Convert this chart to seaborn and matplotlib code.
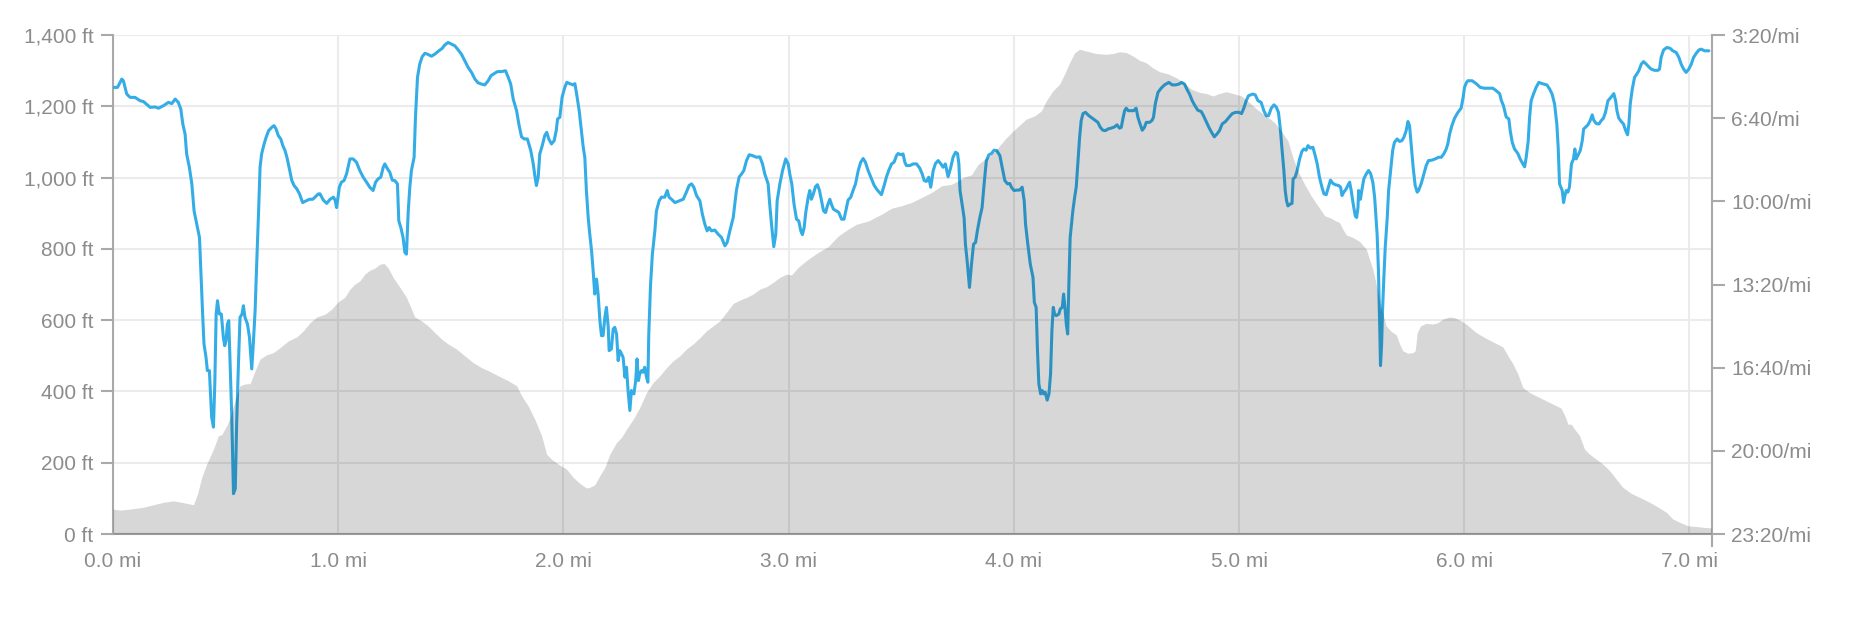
import seaborn as sns
import matplotlib.pyplot as plt
from matplotlib.ticker import FuncFormatter

# elevation profile (miles, feet)
elev_mi = [0.000, 0.031, 0.076, 0.135, 0.179, 0.224, 0.268, 0.305, 0.357, 0.375,
           0.394, 0.416, 0.446, 0.468, 0.483, 0.505, 0.520, 0.542, 0.564, 0.586,
           0.609, 0.631, 0.653, 0.683, 0.712, 0.742, 0.779, 0.816, 0.845, 0.875,
           0.905, 0.942, 0.971, 1.001, 1.029, 1.052, 1.074, 1.096, 1.118, 1.140,
           1.163, 1.185, 1.204, 1.222, 1.244, 1.274, 1.303, 1.322, 1.340, 1.370,
           1.399, 1.429, 1.459, 1.488, 1.525, 1.562, 1.599, 1.636, 1.673, 1.710,
           1.755, 1.792, 1.814, 1.843, 1.873, 1.903, 1.925, 1.947, 1.977, 2.014,
           2.043, 2.073, 2.102, 2.117, 2.139, 2.162, 2.184, 2.206, 2.236, 2.258,
           2.280, 2.310, 2.339, 2.369, 2.398, 2.428, 2.458, 2.487, 2.517, 2.546,
           2.576, 2.606, 2.635, 2.665, 2.694, 2.724, 2.754, 2.783, 2.813, 2.842,
           2.872, 2.902, 2.931, 2.961, 2.990, 3.013, 3.042, 3.087, 3.131, 3.175,
           3.220, 3.264, 3.301, 3.353, 3.412, 3.457, 3.501, 3.545, 3.590, 3.634,
           3.679, 3.723, 3.753, 3.782, 3.812, 3.841, 3.871, 3.901, 3.930, 3.960,
           3.989, 4.013, 4.055, 4.092, 4.122, 4.144, 4.173, 4.203, 4.225, 4.247,
           4.270, 4.292, 4.321, 4.366, 4.410, 4.440, 4.469, 4.499, 4.529, 4.558,
           4.588, 4.617, 4.647, 4.684, 4.721, 4.751, 4.788, 4.825, 4.854, 4.884,
           4.913, 4.943, 4.973, 5.011, 5.047, 5.084, 5.121, 5.158, 5.187, 5.217,
           5.239, 5.261, 5.291, 5.320, 5.350, 5.380, 5.409, 5.424, 5.446, 5.461,
           5.476, 5.505, 5.535, 5.565, 5.579, 5.594, 5.609, 5.631, 5.653, 5.676,
           5.698, 5.713, 5.727, 5.750, 5.772, 5.782, 5.791, 5.806, 5.831, 5.861,
           5.883, 5.905, 5.935, 5.957, 5.986, 6.010, 6.053, 6.097, 6.134, 6.171,
           6.194, 6.216, 6.238, 6.260, 6.290, 6.334, 6.379, 6.430, 6.450, 6.460,
           6.475, 6.490, 6.512, 6.534, 6.556, 6.586, 6.615, 6.645, 6.675, 6.704,
           6.741, 6.778, 6.823, 6.867, 6.897, 6.926, 6.956, 6.993, 7.030, 7.059,
           7.096]
elev_ft = [70, 67, 70, 75, 82, 89, 93, 89, 82, 112,
           159, 196, 238, 276, 279, 304, 327, 374, 416, 421,
           422, 458, 491, 503, 509, 523, 542, 553, 570, 593,
           609, 617, 631, 652, 664, 687, 701, 710, 729, 740,
           746, 757, 759, 746, 720, 692, 664, 636, 609, 598,
           584, 565, 547, 533, 519, 500, 481, 467, 456, 444,
           430, 416, 388, 360, 322, 276, 224, 210, 196, 182,
           159, 142, 129, 131, 138, 164, 187, 224, 257, 271,
           294, 322, 355, 397, 425, 444, 467, 486, 500, 519,
           533, 551, 570, 584, 598, 622, 647, 656, 664, 673,
           687, 694, 706, 720, 729, 727, 748, 771, 790, 806,
           836, 855, 869, 878, 897, 914, 921, 930, 944, 958,
           977, 981, 991, 1002, 1008, 1037, 1051, 1065, 1084, 1107,
           1126, 1140, 1164, 1173, 1187, 1215, 1243, 1262, 1290, 1322,
           1350, 1360, 1355, 1348, 1346, 1348, 1353, 1351, 1341, 1329,
           1322, 1308, 1297, 1291, 1280, 1269, 1248, 1239, 1236, 1229,
           1236, 1241, 1236, 1229, 1210, 1189, 1173, 1154, 1131, 1103,
           1056, 1019, 981, 949, 921, 893, 886, 880, 874, 855,
           839, 832, 821, 799, 771, 743, 701, 636, 584, 568,
           559, 533, 514, 507, 509, 514, 565, 584, 591, 589,
           593, 603, 609, 607, 598, 588, 565, 549, 537, 525,
           500, 477, 449, 411, 397, 383, 369, 353, 327, 308,
           308, 294, 276, 238, 224, 210, 196, 178, 154, 131,
           114, 103, 89, 73, 61, 42, 33, 23, 21, 19,
           17]

# pace (miles, seconds per mile)
pace_mi = [0.000, 0.020, 0.039, 0.046, 0.061, 0.076, 0.098, 0.120, 0.135, 0.165,
           0.187, 0.202, 0.224, 0.246, 0.261, 0.276, 0.290, 0.301, 0.310, 0.320,
           0.327, 0.339, 0.350, 0.360, 0.372, 0.384, 0.390, 0.398, 0.404, 0.413,
           0.419, 0.428, 0.438, 0.446, 0.452, 0.458, 0.464, 0.472, 0.481, 0.490,
           0.496, 0.502, 0.508, 0.514, 0.520, 0.527, 0.535, 0.543, 0.549, 0.557,
           0.564, 0.573, 0.579, 0.586, 0.597, 0.606, 0.616, 0.623, 0.631, 0.638,
           0.646, 0.653, 0.660, 0.671, 0.680, 0.691, 0.705, 0.715, 0.724, 0.734,
           0.745, 0.754, 0.764, 0.774, 0.783, 0.794, 0.804, 0.816, 0.828, 0.842,
           0.857, 0.872, 0.887, 0.897, 0.912, 0.919, 0.934, 0.949, 0.964, 0.979,
           0.986, 0.993, 1.005, 1.014, 1.026, 1.037, 1.052, 1.066, 1.081, 1.096,
           1.111, 1.126, 1.140, 1.155, 1.166, 1.177, 1.189, 1.200, 1.207, 1.219,
           1.229, 1.240, 1.251, 1.263, 1.269, 1.278, 1.288, 1.296, 1.303, 1.311,
           1.318, 1.325, 1.337, 1.343, 1.352, 1.362, 1.373, 1.385, 1.396, 1.414,
           1.429, 1.447, 1.462, 1.473, 1.488, 1.503, 1.518, 1.533, 1.547, 1.562,
           1.577, 1.592, 1.607, 1.621, 1.636, 1.651, 1.666, 1.678, 1.692, 1.707,
           1.725, 1.743, 1.755, 1.766, 1.777, 1.792, 1.802, 1.814, 1.826, 1.840,
           1.855, 1.866, 1.873, 1.880, 1.888, 1.895, 1.906, 1.917, 1.926, 1.935,
           1.947, 1.959, 1.968, 1.974, 1.984, 1.994, 2.006, 2.015, 2.028, 2.043,
           2.051, 2.061, 2.070, 2.080, 2.088, 2.095, 2.102, 2.110, 2.117, 2.125,
           2.132, 2.139, 2.147, 2.154, 2.162, 2.169, 2.176, 2.184, 2.191, 2.199,
           2.203, 2.213, 2.221, 2.228, 2.236, 2.243, 2.250, 2.258, 2.265, 2.273,
           2.280, 2.287, 2.295, 2.302, 2.313, 2.321, 2.327, 2.333, 2.339, 2.347,
           2.354, 2.361, 2.369, 2.375, 2.379, 2.387, 2.395, 2.406, 2.413, 2.425,
           2.435, 2.450, 2.461, 2.469, 2.480, 2.495, 2.509, 2.532, 2.546, 2.558,
           2.569, 2.579, 2.591, 2.606, 2.617, 2.628, 2.638, 2.647, 2.657, 2.672,
           2.687, 2.702, 2.717, 2.727, 2.739, 2.754, 2.761, 2.768, 2.780, 2.791,
           2.801, 2.813, 2.825, 2.839, 2.857, 2.872, 2.884, 2.894, 2.909, 2.916,
           2.924, 2.934, 2.943, 2.949, 2.961, 2.973, 2.987, 2.998, 3.005, 3.014,
           3.024, 3.035, 3.045, 3.054, 3.061, 3.069, 3.076, 3.087, 3.094, 3.101,
           3.110, 3.119, 3.128, 3.137, 3.146, 3.155, 3.164, 3.172, 3.183, 3.190,
           3.199, 3.212, 3.223, 3.235, 3.246, 3.257, 3.264, 3.276, 3.286, 3.297,
           3.309, 3.320, 3.331, 3.341, 3.353, 3.365, 3.380, 3.394, 3.412, 3.424,
           3.434, 3.445, 3.457, 3.468, 3.479, 3.486, 3.498, 3.508, 3.516, 3.523,
           3.538, 3.553, 3.568, 3.582, 3.593, 3.602, 3.612, 3.622, 3.631, 3.642,
           3.652, 3.664, 3.676, 3.686, 3.696, 3.708, 3.720, 3.730, 3.741, 3.750,
           3.756, 3.761, 3.770, 3.779, 3.785, 3.794, 3.803, 3.812, 3.821, 3.830,
           3.838, 3.849, 3.859, 3.868, 3.878, 3.889, 3.901, 3.912, 3.924, 3.938,
           3.948, 3.960, 3.972, 3.982, 3.989, 4.001, 4.013, 4.025, 4.037, 4.046,
           4.052, 4.062, 4.073, 4.085, 4.091, 4.099, 4.105, 4.111, 4.119, 4.126,
           4.132, 4.139, 4.148, 4.156, 4.163, 4.169, 4.175, 4.181, 4.188, 4.200,
           4.206, 4.215, 4.221, 4.227, 4.233, 4.239, 4.244, 4.250, 4.256, 4.262,
           4.270, 4.277, 4.284, 4.292, 4.299, 4.307, 4.318, 4.333, 4.348, 4.363,
           4.373, 4.384, 4.395, 4.407, 4.418, 4.432, 4.447, 4.458, 4.469, 4.477,
           4.484, 4.492, 4.499, 4.508, 4.521, 4.532, 4.543, 4.551, 4.558, 4.570,
           4.580, 4.588, 4.603, 4.614, 4.620, 4.628, 4.640, 4.654, 4.669, 4.688,
           4.703, 4.718, 4.733, 4.745, 4.758, 4.768, 4.780, 4.792, 4.804, 4.817,
           4.832, 4.842, 4.854, 4.866, 4.878, 4.890, 4.902, 4.913, 4.925, 4.940,
           4.955, 4.970, 4.984, 4.999, 5.011, 5.021, 5.032, 5.042, 5.061, 5.072,
           5.084, 5.098, 5.110, 5.121, 5.131, 5.143, 5.155, 5.165, 5.175, 5.184,
           5.190, 5.199, 5.205, 5.211, 5.217, 5.226, 5.235, 5.240, 5.249, 5.258,
           5.269, 5.279, 5.288, 5.298, 5.306, 5.317, 5.328, 5.338, 5.347, 5.357,
           5.368, 5.377, 5.387, 5.397, 5.406, 5.417, 5.427, 5.442, 5.451, 5.457,
           5.465, 5.476, 5.483, 5.491, 5.498, 5.507, 5.516, 5.522, 5.528, 5.531,
           5.539, 5.545, 5.554, 5.565, 5.575, 5.584, 5.594, 5.602, 5.608, 5.613,
           5.619, 5.625, 5.628, 5.633, 5.637, 5.643, 5.649, 5.658, 5.664, 5.673,
           5.682, 5.690, 5.702, 5.713, 5.723, 5.732, 5.742, 5.750, 5.757, 5.764,
           5.773, 5.782, 5.791, 5.797, 5.809, 5.821, 5.831, 5.841, 5.856, 5.871,
           5.886, 5.898, 5.909, 5.920, 5.927, 5.935, 5.945, 5.957, 5.972, 5.986,
           5.995, 6.001, 6.010, 6.016, 6.035, 6.053, 6.071, 6.090, 6.112, 6.127,
           6.142, 6.157, 6.165, 6.174, 6.186, 6.198, 6.204, 6.213, 6.223, 6.238,
           6.248, 6.260, 6.268, 6.275, 6.284, 6.290, 6.297, 6.308, 6.319, 6.331,
           6.346, 6.367, 6.379, 6.390, 6.401, 6.411, 6.417, 6.423, 6.429, 6.435,
           6.441, 6.447, 6.453, 6.460, 6.467, 6.476, 6.485, 6.491, 6.497, 6.504,
           6.515, 6.524, 6.530, 6.538, 6.549, 6.559, 6.568, 6.575, 6.586, 6.598,
           6.608, 6.618, 6.627, 6.638, 6.648, 6.657, 6.664, 6.672, 6.678, 6.686,
           6.697, 6.707, 6.716, 6.725, 6.731, 6.737, 6.746, 6.756, 6.766, 6.775,
           6.786, 6.796, 6.808, 6.820, 6.830, 6.845, 6.860, 6.867, 6.874, 6.885,
           6.900, 6.914, 6.926, 6.941, 6.953, 6.963, 6.974, 6.985, 6.997, 7.008,
           7.018, 7.030, 7.042, 7.052, 7.067, 7.086]
pace_sec = [326, 326, 306, 310, 342, 350, 350, 358, 360, 374,
            373, 376, 370, 362, 365, 354, 362, 378, 414, 438,
            486, 518, 558, 623, 655, 687, 767, 871, 943, 975,
            1007, 1007, 1119, 1143, 1039, 871, 839, 871, 871, 927,
            947, 935, 895, 887, 991, 1111, 1303, 1291, 1135, 991,
            879, 871, 851, 879, 895, 927, 1003, 943, 863, 751,
            631, 518, 486, 462, 446, 430, 422, 418, 426, 442,
            450, 466, 478, 498, 522, 550, 562, 570, 582, 603,
            599, 595, 595, 590, 582, 582, 597, 605, 595, 590,
            597, 615, 566, 554, 550, 534, 498, 498, 506, 526,
            542, 554, 566, 574, 554, 546, 542, 518, 510, 522,
            530, 549, 550, 558, 647, 663, 687, 723, 727, 623,
            566, 526, 494, 398, 302, 270, 252, 244, 246, 251,
            246, 238, 232, 224, 218, 222, 226, 236, 246, 262,
            278, 290, 306, 315, 318, 320, 310, 298, 293, 288,
            288, 286, 302, 318, 354, 382, 414, 445, 450, 450,
            478, 510, 538, 562, 542, 486, 466, 442, 434, 450,
            462, 454, 430, 402, 398, 350, 326, 314, 317, 320,
            317, 350, 382, 430, 470, 494, 574, 639, 679, 719,
            767, 823, 787, 823, 887, 923, 923, 879, 855, 903,
            959, 955, 907, 903, 919, 983, 959, 967, 975, 1023,
            999, 1055, 1103, 1055, 1063, 1031, 979, 1031, 1015, 1007,
            1011, 999, 1023, 1035, 919, 799, 727, 671, 623, 599,
            590, 590, 574, 590, 595, 603, 600, 595, 578, 562,
            558, 566, 586, 599, 631, 655, 671, 663, 671, 669,
            679, 687, 707, 699, 671, 639, 607, 574, 542, 534,
            526, 502, 488, 490, 494, 493, 510, 534, 558, 607,
            655, 709, 679, 599, 558, 526, 498, 510, 534, 558,
            607, 643, 647, 671, 680, 663, 627, 590, 574, 595,
            582, 565, 560, 574, 599, 623, 627, 611, 595, 607,
            619, 623, 627, 643, 643, 615, 597, 590, 574, 558,
            526, 506, 497, 506, 526, 542, 562, 573, 584, 562,
            542, 525, 510, 506, 490, 485, 488, 486, 506, 514,
            514, 510, 510, 520, 534, 550, 552, 542, 566, 526,
            509, 502, 510, 518, 510, 541, 518, 494, 482, 485,
            510, 574, 607, 639, 703, 751, 807, 751, 703, 699,
            671, 639, 615, 558, 502, 488, 485, 477, 478, 490,
            518, 550, 558, 557, 566, 574, 573, 573, 566, 599,
            655, 703, 751, 783, 843, 855, 959, 1039, 1063, 1055,
            1063, 1059, 1078, 1063, 1015, 911, 855, 871, 875, 871,
            859, 855, 823, 855, 895, 919, 807, 687, 655, 623,
            590, 566, 510, 446, 406, 389, 386, 394, 400, 406,
            410, 422, 429, 430, 426, 424, 421, 416, 424, 422,
            402, 382, 376, 382, 382, 382, 376, 398, 410, 429,
            422, 410, 410, 405, 398, 366, 338, 328, 320, 314,
            320, 320, 318, 314, 318, 330, 342, 358, 370, 381,
            384, 394, 408, 422, 434, 445, 438, 430, 414, 408,
            398, 389, 386, 386, 389, 376, 358, 346, 342, 344,
            358, 362, 382, 394, 394, 376, 368, 373, 386, 430,
            470, 526, 574, 599, 611, 607, 605, 546, 542, 526,
            498, 480, 474, 477, 466, 472, 470, 490, 510, 542,
            566, 582, 584, 566, 549, 557, 560, 562, 566, 586,
            578, 570, 562, 554, 574, 607, 635, 639, 615, 574,
            595, 574, 546, 534, 526, 533, 554, 590, 639, 679,
            767, 911, 995, 943, 863, 783, 711, 639, 574, 526,
            478, 458, 450, 456, 454, 446, 430, 408, 418, 462,
            518, 562, 578, 574, 557, 534, 514, 502, 501, 498,
            494, 494, 486, 474, 462, 438, 418, 400, 386, 376,
            350, 326, 314, 310, 310, 317, 326, 328, 328, 328,
            334, 341, 358, 370, 397, 402, 430, 458, 474, 485,
            498, 510, 517, 494, 454, 398, 358, 341, 326, 314,
            317, 320, 330, 342, 366, 414, 470, 558, 566, 574,
            603, 586, 574, 578, 566, 510, 498, 474, 498, 490,
            478, 454, 426, 422, 416, 406, 392, 405, 413, 414,
            406, 400, 386, 358, 352, 346, 341, 358, 382, 400,
            408, 414, 429, 440, 414, 366, 330, 302, 294, 286,
            270, 264, 270, 277, 282, 285, 285, 282, 254, 236,
            230, 232, 238, 242, 254, 270, 282, 290, 282, 270,
            254, 244, 236, 234, 238, 238]

ft_ticks = [0, 200, 400, 600, 800, 1000, 1200, 1400]
pace_ticks = [200, 400, 600, 800, 1000, 1200, 1400]
mile_ticks = [0, 1, 2, 3, 4, 5, 6, 7]

sns.set_theme(style="white")
plt.rcParams['font.family'] = ['Liberation Sans', 'DejaVu Sans']

axis_grey = '#a9a9a9'
text_grey = '#8c8c8c'

fig = plt.figure(figsize=(18.58, 6.38), dpi=100)
rect = [113 / 1858, 104 / 638, 1599 / 1858, 499 / 638]
ax = fig.add_axes(rect)
ax2 = ax.twinx()
ax3 = fig.add_axes(rect, sharex=ax, sharey=ax)

# grid + elevation axis (bottom layer)
ax.set_xlim(0, 7.1)
ax.set_ylim(0, 1400)
ax.set_xticks(mile_ticks)
ax.set_yticks(ft_ticks)
ax.set_xticks([0, 7.1], minor=True)
ax.grid(True, which='major', color='#ebebeb', linewidth=1.5)
ax.set_axisbelow(True)
ax.xaxis.set_major_formatter(FuncFormatter(lambda v, p: f"{v:.1f} mi"))
ax.yaxis.set_major_formatter(FuncFormatter(lambda v, p: f"{v:,.0f} ft"))
ax.tick_params(axis='y', left=True, direction='out', length=9, width=1.5,
               color=axis_grey, labelcolor=text_grey, labelsize=15, pad=5)
ax.tick_params(axis='x', which='major', bottom=True, length=0, pad=13,
               labelcolor=text_grey, labelsize=15)
ax.tick_params(axis='x', which='minor', bottom=True, direction='out',
               length=9, width=1.5, color=axis_grey)
for side in ['top', 'right']:
    ax.spines[side].set_visible(False)
for side in ['left', 'bottom']:
    ax.spines[side].set_color(axis_grey)
    ax.spines[side].set_linewidth(1.5)

# pace line (middle layer)
sns.lineplot(x=pace_mi, y=pace_sec, ax=ax2, color='#34ade6', linewidth=2.2,
             estimator=None, sort=False)
ax2.set_ylim(1400, 200)
ax2.set_yticks(pace_ticks)
ax2.yaxis.set_major_formatter(
    FuncFormatter(lambda v, p: f"{int(v) // 60}:{int(v) % 60:02d}/mi"))
ax2.tick_params(axis='y', right=True, direction='out', length=9, width=1.5,
                color=axis_grey, labelcolor=text_grey, labelsize=15, pad=5)
ax2.grid(False)
ax2.set_ylabel('')
for side in ['top', 'left', 'bottom']:
    ax2.spines[side].set_visible(False)
ax2.spines['right'].set_color(axis_grey)
ax2.spines['right'].set_linewidth(1.5)

# elevation area (top layer, translucent)
ax3.fill_between(elev_mi, elev_ft, 0, color='black', alpha=0.155, linewidth=0)
ax3.patch.set_visible(False)
ax3.axis('off')

fig.savefig('out.png', dpi=100)
